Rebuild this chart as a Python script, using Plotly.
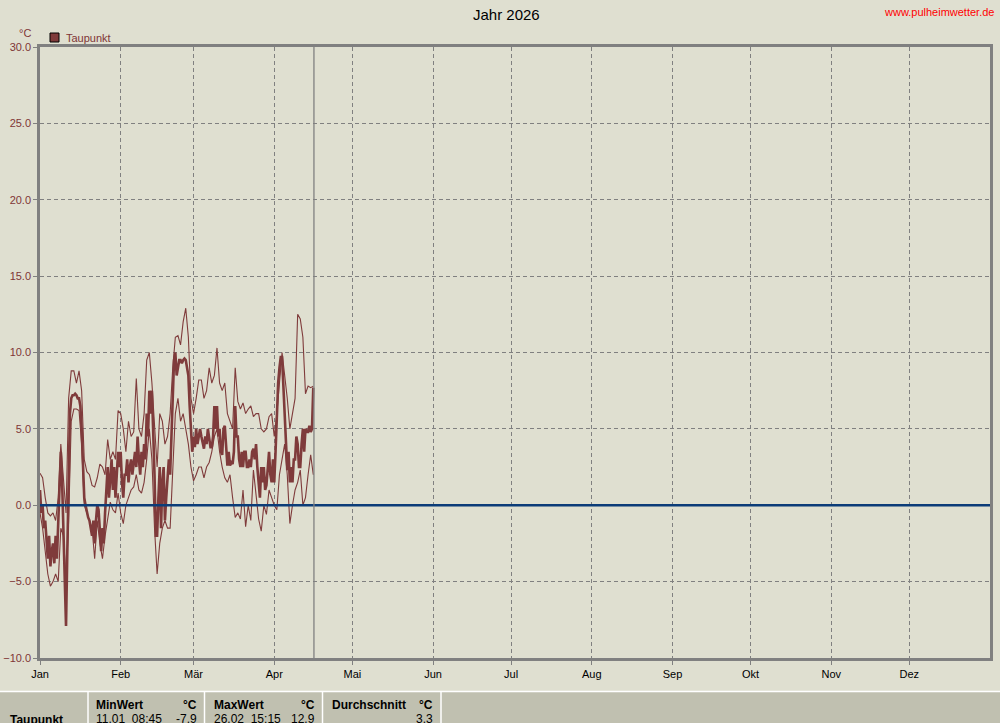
import plotly.graph_objects as go
import pandas as pd

# ---------------- data ----------------
months = ["Jan", "Feb", "Mär", "Apr", "Mai", "Jun", "Jul", "Aug", "Sep", "Okt", "Nov", "Dez"]
month_starts = ["2026-01-01", "2026-02-01", "2026-03-01", "2026-04-01", "2026-05-01", "2026-06-01",
                "2026-07-01", "2026-08-01", "2026-09-01", "2026-10-01", "2026-11-01", "2026-12-01"]
y_ticks = [-10, -5, 0, 5, 10, 15, 20, 25, 30]

# daily upper envelope (thin line), Jan 1 .. Apr 16
dew_max = [2.1, 1.8, 0.5, -0.5, -0.7, -0.5, -1.0, 0.5, 4.0, 2.0,
           -0.5, 7.0, 8.8, 8.8, 8.0, 8.8, 7.5, 3.0, 2.2, 2.0,
           1.3, 1.2, 1.8, 2.7, 2.5, 2.0, 4.3, 3.0, 3.5, 3.0,
           6.2, 6.0, 5.0, 3.5, 5.5, 4.5, 4.8, 8.3, 5.0, 4.5,
           6.0, 9.5, 10.0, 8.0, 5.0, 2.5, 6.0, 5.5, 4.0, 4.5,
           6.0, 9.0, 11.0, 11.1, 10.5,
           12.0, 12.9, 11.0, 7.0, 6.0, 7.0, 8.2, 8.2, 7.0, 7.5,
           9.0, 8.0, 8.5, 10.3, 8.0, 7.5, 8.0, 6.0, 5.5, 5.0,
           9.0, 6.8, 6.3, 6.7, 6.0, 6.3, 6.5, 5.8, 6.0, 6.0,
           5.0, 4.8, 5.0, 5.8, 6.0, 4.5, 6.0, 8.0, 10.0, 8.5,
           7.0, 5.0, 6.0, 7.0, 12.5, 12.2, 11.0, 7.3, 7.8, 7.7, 7.8]

# daily lower envelope (thin line)
dew_min = [-0.5, -1.5, -3.0, -4.5, -5.3, -5.0, -4.5, -5.0, -1.5, -2.0,
           -5.0, -1.0, 5.5, 6.3, 6.3, 6.2, 4.0, 0.0, -0.5, -1.0,
           -1.5, -3.5, -1.0, -2.5, -3.5, -2.0, -1.0, 0.2, -0.3, -0.5,
           0.8, -0.5, -1.2, 0.0, 0.5, 1.0, 1.2, 2.0, 1.0, 0.8,
           1.5, 3.0, 5.0, 3.0, -1.5, -4.5, -2.5, -1.5, -1.0, -1.5,
           -1.5, 2.5, 6.0, 7.0, 5.5,
           6.0, 5.0, 4.0, 2.5, 1.6, 2.0, 2.5, 2.5, 1.8, 2.5,
           2.8, 3.5, 4.5, 5.0, 3.5, 2.5, 1.8, 1.5, 2.0, 0.5,
           -0.8, -0.5, -0.9, 1.0, -1.4, 0.0, -1.0, 2.3, 0.5, -0.9,
           -1.7, 0.0, -0.6, 1.0, 0.5, 0.0, -0.3, 2.0, 3.0, 4.0,
           2.0, -1.2, 0.0, 1.0, 1.5, 2.3, 0.0, 0.5, 2.0, 3.3, 2.0]

# dew point, 12-hourly values (thick line)
dew_point = [1.0, -0.5, 0.0, -1.5, -1.0, -2.5, -3.5, -2.0, -4.0, -3.0,
             -2.5, -3.8, -2.0, -3.5, -1.5, 1.0, 3.5, 1.5, -2.0, -4.5,
             -7.9, -3.0, 2.0, 6.0, 7.0, 7.2, 7.2, 7.3, 7.2, 7.0,
             7.0, 6.5, 5.0, 3.0, 0.5, 0.0, -0.5, -0.8, -1.0, -1.5,
             -2.0, -1.0, -2.5, -1.0, 0.0, -0.3, -1.5, -3.0, -1.5, -2.5,
             -0.5, 1.0, 2.5, 0.5, 1.5, 3.0, 1.0, 2.5, 0.5, 2.0,
             3.5, 2.5, 3.5, 1.5, 0.5, 2.0, 2.0, 3.0, 1.5, 2.5,
             3.0, 2.0, 2.8, 3.5, 2.5, 4.5, 3.0, 2.0, 3.5, 2.5,
             4.0, 3.0, 6.0, 4.5, 7.5, 6.0, 7.5, 5.0, 2.0, -2.0,
             -2.0, 0.5, 2.5, -1.5, 1.5, 2.5, -1.0, 0.5, 1.5, 3.0,
             2.0, 5.0, 8.0, 9.5, 10.0, 8.5, 9.0, 9.5, 9.5, 9.3,
             9.5, 9.6, 9.5, 9.0, 8.5, 6.5, 5.0, 3.5, 4.5, 3.8,
             5.0, 4.0, 4.5, 5.0, 4.5, 4.0, 3.7, 4.5, 4.0, 5.0,
             4.5, 3.8, 3.8, 4.5, 6.5, 5.0, 6.5, 4.5, 5.0, 3.5,
             3.3, 5.0, 5.2, 4.0, 2.6, 3.5, 2.6, 2.8, 2.7, 3.5,
             6.5, 4.5, 4.5, 3.0, 2.5, 3.5, 2.5, 3.5, 3.5, 2.5,
             2.5, 3.0, 2.5, 3.5, 3.7, 3.0, 4.0, 2.5, 1.5, 0.5,
             2.5, 1.5, 2.5, 1.0, 1.3, 2.5, 3.5, 2.0, 1.5, 3.0,
             1.5, 3.5, 6.5, 8.0, 9.0, 9.7, 9.7, 8.0, 6.0, 4.0,
             2.3, 3.5, 1.5, 2.5, 1.5, 3.0, 3.0, 4.5, 4.0, 2.5,
             2.5, 4.0, 5.0, 3.5, 5.0, 4.8, 4.8, 5.2, 4.8, 5.0, 7.7]

stat_label = "Taupunkt"
stat_min_time, stat_min = "11.01  08:45", -7.9
stat_max_time, stat_max = "26.02  15:15", 12.9
stat_avg = 3.3

days = pd.date_range("2026-01-01", periods=len(dew_max), freq="D")
halfdays = pd.date_range("2026-01-01", periods=len(dew_point), freq="12h")

# ---------------- styling ----------------
BG = "#DFDFD0"
RED = "#7F3B3B"
TXT_RED = "#803636"
GRAY = "#808080"
FONT = "Liberation Sans, Arial, sans-serif"

L, R, T, B = 40, 990, 47, 658


def px(x):
    return (x - L) / (R - L)


def py(y):
    return (B - y) / (B - T)


fig = go.Figure()
fig.add_trace(go.Scatter(x=days, y=dew_max, mode="lines", line=dict(color=RED, width=1.1),
                         hoverinfo="skip", showlegend=False))
fig.add_trace(go.Scatter(x=days, y=dew_min, mode="lines", line=dict(color=RED, width=1.1),
                         hoverinfo="skip", showlegend=False))
fig.add_trace(go.Scatter(x=halfdays, y=dew_point, mode="lines", line=dict(color=RED, width=2.6),
                         hoverinfo="skip", showlegend=False))

shapes = [
    # zero line
    dict(type="line", xref="paper", yref="y", x0=0, x1=1, y0=0, y1=0,
         line=dict(color="#0B3C78", width=2.5), layer="above"),
    # current date marker
    dict(type="line", xref="x", yref="paper", x0="2026-04-16 06:00", x1="2026-04-16 06:00", y0=0, y1=1,
         line=dict(color=GRAY, width=1.3), layer="above"),
    # legend swatch
    dict(type="rect", xref="paper", yref="paper", x0=px(50), x1=px(59), y0=py(42), y1=py(33),
         fillcolor=RED, line=dict(color="black", width=1)),
    # table background
    dict(type="rect", xref="paper", yref="paper", x0=px(0), x1=px(1000), y0=py(730), y1=py(691),
         fillcolor="#C0C0B0", line=dict(width=0), layer="above"),
    dict(type="line", xref="paper", yref="paper", x0=px(0), x1=px(1000), y0=py(691.5), y1=py(691.5),
         line=dict(color="white", width=1.5), layer="above"),
]
for xv in [88, 204.5, 322.5, 441]:
    shapes.append(dict(type="line", xref="paper", yref="paper", x0=px(xv), x1=px(xv),
                       y0=py(692), y1=py(730), line=dict(color="white", width=1.5), layer="above"))

ann = [
    dict(text="Jahr 2026", x=px(506), y=py(15), font=dict(size=15, color="black")),
    dict(text="www.pulheimwetter.de", x=px(996), y=py(12), xanchor="right", font=dict(size=11, color="#FF0000")),
    dict(text="°C", x=px(25), y=py(33), font=dict(size=11, color=TXT_RED)),
    dict(text="Taupunkt", x=px(64), y=py(38), xanchor="left", font=dict(size=11, color=TXT_RED)),
    dict(text="<b>" + stat_label + "</b>", x=px(8), y=py(720), xanchor="left", font=dict(size=12, color="black")),
    dict(text="<b>MinWert</b>", x=px(94), y=py(705), xanchor="left", font=dict(size=12, color="black")),
    dict(text="<b>°C</b>", x=px(199), y=py(705), xanchor="right", font=dict(size=12, color="black")),
    dict(text="<b>MaxWert</b>", x=px(212), y=py(705), xanchor="left", font=dict(size=12, color="black")),
    dict(text="<b>°C</b>", x=px(317), y=py(705), xanchor="right", font=dict(size=12, color="black")),
    dict(text="<b>Durchschnitt</b>", x=px(330), y=py(705), xanchor="left", font=dict(size=12, color="black")),
    dict(text="<b>°C</b>", x=px(435), y=py(705), xanchor="right", font=dict(size=12, color="black")),
    dict(text=stat_min_time, x=px(94), y=py(719), xanchor="left", font=dict(size=12, color="black")),
    dict(text=f"{stat_min:.1f}", x=px(199), y=py(719), xanchor="right", font=dict(size=12, color="black")),
    dict(text=stat_max_time, x=px(212), y=py(719), xanchor="left", font=dict(size=12, color="black")),
    dict(text=f"{stat_max:.1f}", x=px(317), y=py(719), xanchor="right", font=dict(size=12, color="black")),
    dict(text=f"{stat_avg:.1f}", x=px(435), y=py(719), xanchor="right", font=dict(size=12, color="black")),
]
for a in ann:
    a.update(xref="paper", yref="paper", showarrow=False, yanchor="middle")
    a.setdefault("xanchor", "center")

fig.update_layout(
    width=1000, height=723,
    margin=dict(l=L, r=1000 - R, t=T, b=723 - B, pad=0, autoexpand=False),
    paper_bgcolor=BG, plot_bgcolor=BG,
    font=dict(family=FONT, size=11, color="black"),
    showlegend=False,
    shapes=shapes,
    annotations=ann,
    xaxis=dict(type="date", range=["2026-01-01", "2027-01-01"], automargin=False,
               tickmode="array", tickvals=month_starts, ticktext=months,
               ticks="outside", ticklen=4, tickcolor=GRAY,
               tickfont=dict(size=11, color="black"),
               showgrid=True, gridcolor=GRAY, gridwidth=1, griddash="4px,3px",
               showline=True, linecolor=GRAY, linewidth=2.5, mirror=True, zeroline=False),
    yaxis=dict(range=[-10, 30], automargin=False, tickmode="array", tickvals=y_ticks, tickformat=".1f",
               ticks="outside", ticklen=4, tickcolor=GRAY,
               tickfont=dict(size=11, color=TXT_RED),
               showgrid=True, gridcolor=GRAY, gridwidth=1, griddash="4px,3px",
               showline=True, linecolor=GRAY, linewidth=2.5, mirror=True, zeroline=False),
)

fig.write_html("out.html", config={"displayModeBar": False},
               post_script="document.body.style.margin='0';")
